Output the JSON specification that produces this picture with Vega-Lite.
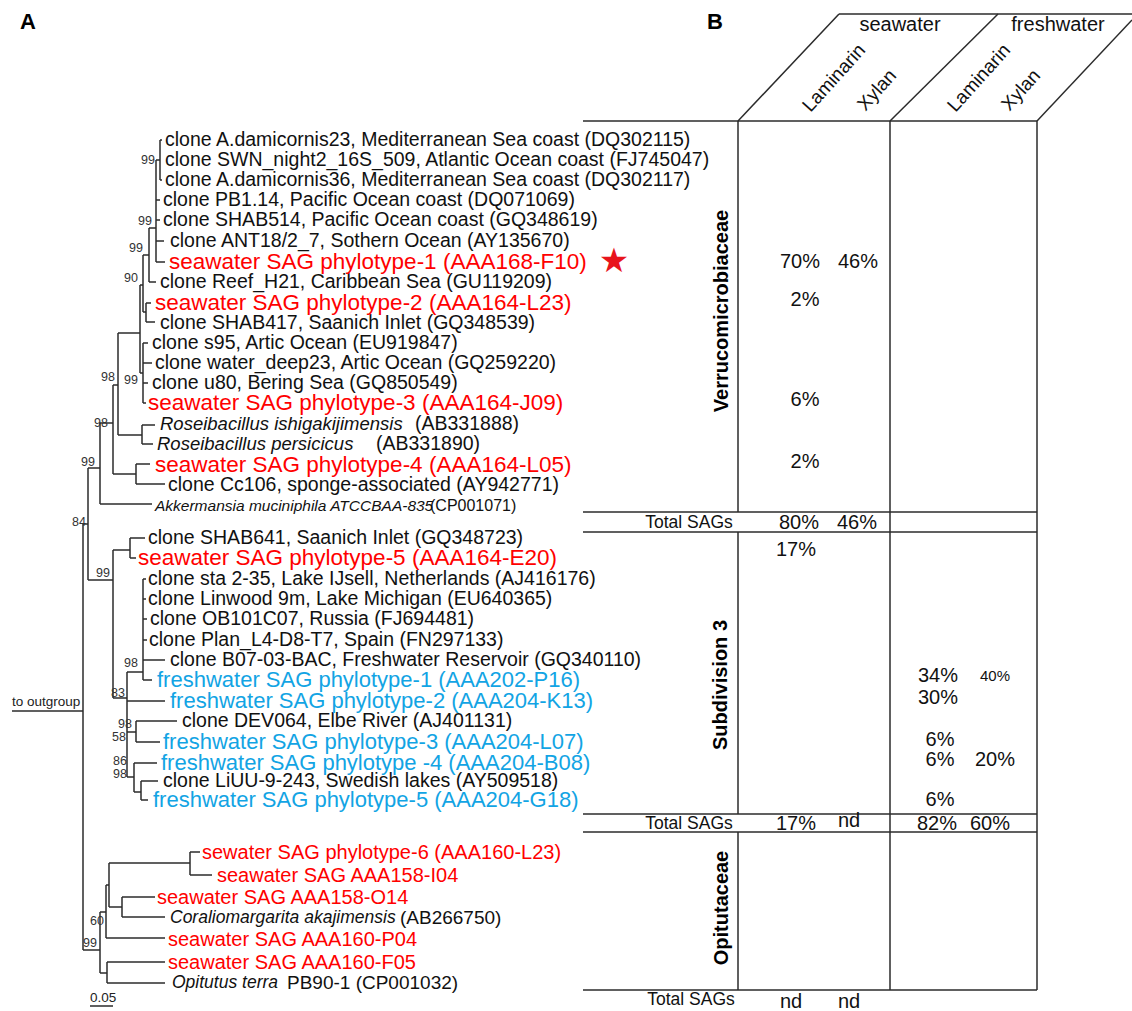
{
  "$schema": "https://vega.github.io/schema/vega-lite/v6.json",
  "width": 1132,
  "height": 1011,
  "autosize": "none",
  "padding": 0,
  "background": "white",
  "config": {"view": {"stroke": null}},
  "data": {"values": [
      {"kind":"seg","x":12,"y":711,"x2":83,"y2":711},
      {"kind":"seg","x":83,"y":524,"x2":83,"y2":950},
      {"kind":"seg","x":83,"y":524,"x2":88,"y2":524},
      {"kind":"seg","x":88,"y":468,"x2":88,"y2":580},
      {"kind":"seg","x":88,"y":468,"x2":100,"y2":468},
      {"kind":"seg","x":100,"y":423,"x2":100,"y2":504},
      {"kind":"seg","x":100,"y":504,"x2":152,"y2":504},
      {"kind":"seg","x":100,"y":423,"x2":113,"y2":423},
      {"kind":"seg","x":113,"y":385,"x2":113,"y2":474},
      {"kind":"seg","x":113,"y":474,"x2":136,"y2":474},
      {"kind":"seg","x":136,"y":464,"x2":136,"y2":484},
      {"kind":"seg","x":136,"y":464,"x2":150,"y2":464},
      {"kind":"seg","x":136,"y":484,"x2":165,"y2":484},
      {"kind":"seg","x":113,"y":385,"x2":118,"y2":385},
      {"kind":"seg","x":118,"y":333,"x2":118,"y2":435},
      {"kind":"seg","x":118,"y":435,"x2":142,"y2":435},
      {"kind":"seg","x":142,"y":425,"x2":142,"y2":444},
      {"kind":"seg","x":142,"y":425,"x2":155,"y2":425},
      {"kind":"seg","x":142,"y":444,"x2":153,"y2":444},
      {"kind":"seg","x":118,"y":333,"x2":140,"y2":333},
      {"kind":"seg","x":140,"y":285,"x2":140,"y2":373},
      {"kind":"seg","x":140,"y":373,"x2":143,"y2":373},
      {"kind":"seg","x":143,"y":343,"x2":143,"y2":403},
      {"kind":"seg","x":143,"y":343,"x2":148,"y2":343},
      {"kind":"seg","x":143,"y":363,"x2":152,"y2":363},
      {"kind":"seg","x":143,"y":383,"x2":148,"y2":383},
      {"kind":"seg","x":143,"y":403,"x2":146,"y2":403},
      {"kind":"seg","x":140,"y":285,"x2":143,"y2":285},
      {"kind":"seg","x":143,"y":255,"x2":143,"y2":312},
      {"kind":"seg","x":143,"y":312,"x2":146,"y2":312},
      {"kind":"seg","x":146,"y":303,"x2":146,"y2":322},
      {"kind":"seg","x":146,"y":303,"x2":151,"y2":303},
      {"kind":"seg","x":146,"y":322,"x2":155,"y2":322},
      {"kind":"seg","x":143,"y":255,"x2":149,"y2":255},
      {"kind":"seg","x":149,"y":228,"x2":149,"y2":282},
      {"kind":"seg","x":149,"y":282,"x2":156,"y2":282},
      {"kind":"seg","x":149,"y":228,"x2":156,"y2":228},
      {"kind":"seg","x":156,"y":160,"x2":156,"y2":262},
      {"kind":"seg","x":156,"y":160,"x2":160,"y2":160},
      {"kind":"seg","x":160,"y":140,"x2":160,"y2":180},
      {"kind":"seg","x":160,"y":140,"x2":162,"y2":140},
      {"kind":"seg","x":160,"y":180,"x2":162,"y2":180},
      {"kind":"seg","x":156,"y":200,"x2":160,"y2":200},
      {"kind":"seg","x":156,"y":220,"x2":160,"y2":220},
      {"kind":"seg","x":156,"y":241,"x2":164,"y2":241},
      {"kind":"seg","x":156,"y":262,"x2":165,"y2":262},
      {"kind":"seg","x":88,"y":580,"x2":113,"y2":580},
      {"kind":"seg","x":113,"y":550,"x2":113,"y2":698},
      {"kind":"seg","x":113,"y":550,"x2":130,"y2":550},
      {"kind":"seg","x":130,"y":538,"x2":130,"y2":558},
      {"kind":"seg","x":130,"y":538,"x2":145,"y2":538},
      {"kind":"seg","x":130,"y":558,"x2":136,"y2":558},
      {"kind":"seg","x":113,"y":698,"x2":127,"y2":698},
      {"kind":"seg","x":127,"y":672,"x2":127,"y2":777},
      {"kind":"seg","x":127,"y":672,"x2":143,"y2":672},
      {"kind":"seg","x":143,"y":579,"x2":143,"y2":680},
      {"kind":"seg","x":143,"y":579,"x2":146,"y2":579},
      {"kind":"seg","x":143,"y":599,"x2":146,"y2":599},
      {"kind":"seg","x":143,"y":619,"x2":147,"y2":619},
      {"kind":"seg","x":143,"y":640,"x2":147,"y2":640},
      {"kind":"seg","x":143,"y":660,"x2":165,"y2":660},
      {"kind":"seg","x":143,"y":680,"x2":152,"y2":680},
      {"kind":"seg","x":127,"y":701,"x2":165,"y2":701},
      {"kind":"seg","x":127,"y":732,"x2":136,"y2":732},
      {"kind":"seg","x":136,"y":721,"x2":136,"y2":742},
      {"kind":"seg","x":136,"y":721,"x2":177,"y2":721},
      {"kind":"seg","x":136,"y":742,"x2":160,"y2":742},
      {"kind":"seg","x":127,"y":777,"x2":134,"y2":777},
      {"kind":"seg","x":134,"y":763,"x2":134,"y2":792},
      {"kind":"seg","x":134,"y":763,"x2":157,"y2":763},
      {"kind":"seg","x":134,"y":792,"x2":141,"y2":792},
      {"kind":"seg","x":141,"y":781,"x2":141,"y2":800},
      {"kind":"seg","x":141,"y":781,"x2":158,"y2":781},
      {"kind":"seg","x":141,"y":800,"x2":148,"y2":800},
      {"kind":"seg","x":83,"y":950,"x2":100,"y2":950},
      {"kind":"seg","x":100,"y":912,"x2":100,"y2":973},
      {"kind":"seg","x":100,"y":912,"x2":106,"y2":912},
      {"kind":"seg","x":106,"y":885,"x2":106,"y2":938},
      {"kind":"seg","x":106,"y":938,"x2":165,"y2":938},
      {"kind":"seg","x":106,"y":885,"x2":109,"y2":885},
      {"kind":"seg","x":109,"y":863,"x2":109,"y2":907},
      {"kind":"seg","x":109,"y":863,"x2":190,"y2":863},
      {"kind":"seg","x":190,"y":852,"x2":190,"y2":875},
      {"kind":"seg","x":190,"y":852,"x2":200,"y2":852},
      {"kind":"seg","x":190,"y":875,"x2":212,"y2":875},
      {"kind":"seg","x":109,"y":907,"x2":122,"y2":907},
      {"kind":"seg","x":122,"y":897,"x2":122,"y2":917},
      {"kind":"seg","x":122,"y":897,"x2":155,"y2":897},
      {"kind":"seg","x":122,"y":917,"x2":165,"y2":917},
      {"kind":"seg","x":100,"y":973,"x2":107,"y2":973},
      {"kind":"seg","x":107,"y":962,"x2":107,"y2":983},
      {"kind":"seg","x":107,"y":962,"x2":165,"y2":962},
      {"kind":"seg","x":107,"y":983,"x2":165,"y2":983},
      {"kind":"seg","x":90,"y":1006,"x2":113,"y2":1006},
      {"kind":"seg","x":839,"y":14,"x2":1132,"y2":14},
      {"kind":"seg","x":738,"y":121,"x2":839,"y2":14},
      {"kind":"seg","x":890,"y":121,"x2":998,"y2":14},
      {"kind":"seg","x":1037,"y":121,"x2":1132,"y2":20},
      {"kind":"seg","x":583,"y":121,"x2":1037,"y2":121},
      {"kind":"seg","x":738,"y":121,"x2":738,"y2":512},
      {"kind":"seg","x":738,"y":532,"x2":738,"y2":814},
      {"kind":"seg","x":738,"y":832,"x2":738,"y2":990},
      {"kind":"seg","x":890,"y":121,"x2":890,"y2":990},
      {"kind":"seg","x":1037,"y":121,"x2":1037,"y2":990},
      {"kind":"seg","x":583,"y":512,"x2":1037,"y2":512},
      {"kind":"seg","x":583,"y":532,"x2":1037,"y2":532},
      {"kind":"seg","x":583,"y":814,"x2":1037,"y2":814},
      {"kind":"seg","x":583,"y":832,"x2":1037,"y2":832},
      {"kind":"seg","x":583,"y":990,"x2":1037,"y2":990},
      {"kind":"star","x":614,"y":262,"text":"★"},
      {"kind":"clone","x":165,"y":140,"text":"clone A.damicornis23, Mediterranean Sea coast (DQ302115)"},
      {"kind":"clone","x":165,"y":160,"text":"clone SWN_night2_16S_509, Atlantic Ocean coast (FJ745047)"},
      {"kind":"clone","x":165,"y":180,"text":"clone A.damicornis36, Mediterranean Sea coast (DQ302117)"},
      {"kind":"clone","x":163,"y":200,"text":"clone PB1.14, Pacific Ocean coast (DQ071069)"},
      {"kind":"clone","x":163,"y":220,"text":"clone SHAB514, Pacific Ocean coast (GQ348619)"},
      {"kind":"clone","x":170,"y":241,"text":"clone ANT18/2_7, Sothern Ocean (AY135670)"},
      {"kind":"clone","x":160,"y":282,"text":"clone Reef_H21, Caribbean Sea (GU119209)"},
      {"kind":"clone","x":160,"y":323,"text":"clone SHAB417, Saanich Inlet (GQ348539)"},
      {"kind":"clone","x":152,"y":343,"text":"clone s95, Artic Ocean (EU919847)"},
      {"kind":"clone","x":155,"y":363,"text":"clone water_deep23, Artic Ocean (GQ259220)"},
      {"kind":"clone","x":152,"y":383,"text":"clone u80, Bering Sea (GQ850549)"},
      {"kind":"clone","x":168,"y":485,"text":"clone Cc106, sponge-associated (AY942771)"},
      {"kind":"clone","x":148,"y":538,"text":"clone SHAB641, Saanich Inlet (GQ348723)"},
      {"kind":"clone","x":148,"y":579,"text":"clone sta 2-35, Lake IJsell, Netherlands (AJ416176)"},
      {"kind":"clone","x":148,"y":599,"text":"clone Linwood 9m, Lake Michigan (EU640365)"},
      {"kind":"clone","x":150,"y":619,"text":"clone OB101C07, Russia (FJ694481)"},
      {"kind":"clone","x":149,"y":640,"text":"clone Plan_L4-D8-T7, Spain (FN297133)"},
      {"kind":"clone","x":170,"y":660,"text":"clone B07-03-BAC, Freshwater Reservoir (GQ340110)"},
      {"kind":"clone","x":182,"y":721,"text":"clone DEV064, Elbe River (AJ401131)"},
      {"kind":"clone","x":163,"y":781,"text":"clone LiUU-9-243, Swedish lakes (AY509518)"},
      {"kind":"seawater","x":169,"y":262,"text":"seawater SAG phylotype-1 (AAA168-F10)"},
      {"kind":"seawater","x":155,"y":303,"text":"seawater SAG phylotype-2 (AAA164-L23)"},
      {"kind":"seawater","x":148,"y":403,"text":"seawater SAG phylotype-3 (AAA164-J09)"},
      {"kind":"seawater","x":155,"y":465,"text":"seawater SAG phylotype-4 (AAA164-L05)"},
      {"kind":"seawater","x":138,"y":558,"text":"seawater SAG phylotype-5 (AAA164-E20)"},
      {"kind":"seawater2","x":202,"y":853,"text":"sewater SAG phylotype-6 (AAA160-L23)"},
      {"kind":"seawater2","x":217,"y":876,"text":"seawater SAG AAA158-I04"},
      {"kind":"seawater2","x":157,"y":898,"text":"seawater SAG AAA158-O14"},
      {"kind":"seawater2","x":168,"y":940,"text":"seawater SAG AAA160-P04"},
      {"kind":"seawater2","x":168,"y":963,"text":"seawater SAG AAA160-F05"},
      {"kind":"freshwater","x":157,"y":680,"text":"freshwater SAG phylotype-1 (AAA202-P16)"},
      {"kind":"freshwater","x":170,"y":701,"text":"freshwater SAG phylotype-2 (AAA204-K13)"},
      {"kind":"freshwater","x":163,"y":742,"text":"freshwater SAG phylotype-3 (AAA204-L07)"},
      {"kind":"freshwater","x":161,"y":763,"text":"freshwater SAG phylotype -4 (AAA204-B08)"},
      {"kind":"freshwater","x":153,"y":800,"text":"freshwater SAG phylotype-5 (AAA204-G18)"},
      {"kind":"species","x":160,"y":424,"text":"Roseibacillus ishigakijimensis"},
      {"kind":"accession","x":415,"y":424,"text":"(AB331888)"},
      {"kind":"species","x":157,"y":444,"text":"Roseibacillus persicicus"},
      {"kind":"accession","x":376,"y":444,"text":"(AB331890)"},
      {"kind":"species_s","x":155,"y":506,"text":"Akkermansia muciniphila ATCCBAA-835"},
      {"kind":"accession_s","x":430,"y":506,"text":"(CP001071)"},
      {"kind":"species2","x":170,"y":918,"text":"Coraliomargarita akajimensis"},
      {"kind":"accession2","x":400,"y":918,"text":"(AB266750)"},
      {"kind":"species2","x":172,"y":983,"text":"Opitutus terra"},
      {"kind":"accession2","x":287,"y":983,"text":"PB90-1 (CP001032)"},
      {"kind":"bootstrap","x":155,"y":160,"text":"99"},
      {"kind":"bootstrap","x":152,"y":221,"text":"99"},
      {"kind":"bootstrap","x":143,"y":248,"text":"99"},
      {"kind":"bootstrap","x":138,"y":278,"text":"90"},
      {"kind":"bootstrap","x":138,"y":380,"text":"99"},
      {"kind":"bootstrap","x":115,"y":377,"text":"98"},
      {"kind":"bootstrap","x":108,"y":423,"text":"98"},
      {"kind":"bootstrap","x":95,"y":462,"text":"99"},
      {"kind":"bootstrap","x":86,"y":522,"text":"84"},
      {"kind":"bootstrap","x":110,"y":573,"text":"99"},
      {"kind":"bootstrap","x":138,"y":663,"text":"98"},
      {"kind":"bootstrap","x":125,"y":693,"text":"83"},
      {"kind":"bootstrap","x":132,"y":724,"text":"98"},
      {"kind":"bootstrap","x":126,"y":737,"text":"58"},
      {"kind":"bootstrap","x":127,"y":761,"text":"86"},
      {"kind":"bootstrap","x":127,"y":774,"text":"98"},
      {"kind":"bootstrap","x":104,"y":921,"text":"60"},
      {"kind":"bootstrap","x":97,"y":943,"text":"99"},
      {"kind":"note","x":12,"y":702,"text":"to outgroup"},
      {"kind":"note","x":90,"y":998,"text":"0.05"},
      {"kind":"panel","x":28,"y":22,"text":"A"},
      {"kind":"panel","x":715,"y":22,"text":"B"},
      {"kind":"header","x":900,"y":25,"text":"seawater"},
      {"kind":"header","x":1058,"y":25,"text":"freshwater"},
      {"kind":"substrate","x":834,"y":78,"text":"Laminarin"},
      {"kind":"substrate","x":877,"y":90,"text":"Xylan"},
      {"kind":"substrate","x":979,"y":78,"text":"Laminarin"},
      {"kind":"substrate","x":1021,"y":90,"text":"Xylan"},
      {"kind":"group","x":722,"y":311,"text":"Verrucomicrobiaceae"},
      {"kind":"group","x":721,"y":685,"text":"Subdivision 3"},
      {"kind":"group","x":722,"y":908,"text":"Opitutaceae"},
      {"kind":"total","x":689,"y":523,"text":"Total SAGs"},
      {"kind":"total","x":689,"y":824,"text":"Total SAGs"},
      {"kind":"total","x":691,"y":1000,"text":"Total SAGs"},
      {"kind":"percent","x":800,"y":262,"text":"70%"},
      {"kind":"percent","x":858,"y":262,"text":"46%"},
      {"kind":"percent","x":805,"y":300,"text":"2%"},
      {"kind":"percent","x":805,"y":400,"text":"6%"},
      {"kind":"percent","x":805,"y":462,"text":"2%"},
      {"kind":"percent","x":799,"y":523,"text":"80%"},
      {"kind":"percent","x":857,"y":523,"text":"46%"},
      {"kind":"percent","x":796,"y":550,"text":"17%"},
      {"kind":"percent","x":938,"y":676,"text":"34%"},
      {"kind":"smallpercent","x":995,"y":676,"text":"40%"},
      {"kind":"percent","x":938,"y":698,"text":"30%"},
      {"kind":"percent","x":940,"y":740,"text":"6%"},
      {"kind":"percent","x":940,"y":760,"text":"6%"},
      {"kind":"percent","x":995,"y":760,"text":"20%"},
      {"kind":"percent","x":940,"y":800,"text":"6%"},
      {"kind":"percent","x":796,"y":824,"text":"17%"},
      {"kind":"percent","x":849,"y":821,"text":"nd"},
      {"kind":"percent","x":937,"y":824,"text":"82%"},
      {"kind":"percent","x":990,"y":824,"text":"60%"},
      {"kind":"percent","x":791,"y":1002,"text":"nd"},
      {"kind":"percent","x":849,"y":1002,"text":"nd"}
  ]},
  "encoding": {
    "x": {"field": "x", "type": "quantitative", "scale": {"domain": [0, 1132], "nice": false, "zero": false}, "axis": null},
    "y": {"field": "y", "type": "quantitative", "scale": {"domain": [0, 1011], "nice": false, "zero": false, "reverse": true}, "axis": null}
  },
  "layer": [
    {
      "transform": [{"filter": "datum.kind === 'seg'"}],
      "mark": {"type": "rule", "color": "#2b2b2b", "strokeWidth": 1.5},
      "encoding": {"x2": {"field": "x2"}, "y2": {"field": "y2"}}
    },
    {
      "transform": [{"filter": "datum.kind === 'star'"}],
      "mark": {"type": "text", "font": "DejaVu Sans", "align": "center", "baseline": "middle", "fontSize": 34, "color": "#e8141c"},
      "encoding": {"text": {"field": "text", "type": "nominal"}}
    },
    {
      "transform": [{"filter": "datum.kind === 'clone' || datum.kind === 'accession'"}],
      "mark": {"type": "text", "font": "Liberation Sans", "align": "left", "baseline": "middle", "fontSize": 19.5, "color": "#111111"},
      "encoding": {"text": {"field": "text", "type": "nominal"}}
    },
    {
      "transform": [{"filter": "datum.kind === 'species'"}],
      "mark": {"type": "text", "font": "Liberation Sans", "align": "left", "baseline": "middle", "fontSize": 18.5, "fontStyle": "italic", "color": "#111111"},
      "encoding": {"text": {"field": "text", "type": "nominal"}}
    },
    {
      "transform": [{"filter": "datum.kind === 'species_s'"}],
      "mark": {"type": "text", "font": "Liberation Sans", "align": "left", "baseline": "middle", "fontSize": 15.5, "fontStyle": "italic", "color": "#111111"},
      "encoding": {"text": {"field": "text", "type": "nominal"}}
    },
    {
      "transform": [{"filter": "datum.kind === 'accession_s'"}],
      "mark": {"type": "text", "font": "Liberation Sans", "align": "left", "baseline": "middle", "fontSize": 16, "color": "#111111"},
      "encoding": {"text": {"field": "text", "type": "nominal"}}
    },
    {
      "transform": [{"filter": "datum.kind === 'species2'"}],
      "mark": {"type": "text", "font": "Liberation Sans", "align": "left", "baseline": "middle", "fontSize": 17.5, "fontStyle": "italic", "color": "#111111"},
      "encoding": {"text": {"field": "text", "type": "nominal"}}
    },
    {
      "transform": [{"filter": "datum.kind === 'accession2'"}],
      "mark": {"type": "text", "font": "Liberation Sans", "align": "left", "baseline": "middle", "fontSize": 19, "color": "#111111"},
      "encoding": {"text": {"field": "text", "type": "nominal"}}
    },
    {
      "transform": [{"filter": "datum.kind === 'seawater'"}],
      "mark": {"type": "text", "font": "Liberation Sans", "align": "left", "baseline": "middle", "fontSize": 22.5, "color": "#ff0000"},
      "encoding": {"text": {"field": "text", "type": "nominal"}}
    },
    {
      "transform": [{"filter": "datum.kind === 'seawater2'"}],
      "mark": {"type": "text", "font": "Liberation Sans", "align": "left", "baseline": "middle", "fontSize": 20, "color": "#ff0000"},
      "encoding": {"text": {"field": "text", "type": "nominal"}}
    },
    {
      "transform": [{"filter": "datum.kind === 'freshwater'"}],
      "mark": {"type": "text", "font": "Liberation Sans", "align": "left", "baseline": "middle", "fontSize": 22, "color": "#12a4e4"},
      "encoding": {"text": {"field": "text", "type": "nominal"}}
    },
    {
      "transform": [{"filter": "datum.kind === 'bootstrap'"}],
      "mark": {"type": "text", "font": "Liberation Sans", "align": "right", "baseline": "middle", "fontSize": 12.5, "color": "#333333"},
      "encoding": {"text": {"field": "text", "type": "nominal"}}
    },
    {
      "transform": [{"filter": "datum.kind === 'note'"}],
      "mark": {"type": "text", "font": "Liberation Sans", "align": "left", "baseline": "middle", "fontSize": 13.5, "color": "#222222"},
      "encoding": {"text": {"field": "text", "type": "nominal"}}
    },
    {
      "transform": [{"filter": "datum.kind === 'panel'"}],
      "mark": {"type": "text", "font": "Liberation Sans", "align": "center", "baseline": "middle", "fontSize": 22, "fontWeight": "bold", "color": "#000000"},
      "encoding": {"text": {"field": "text", "type": "nominal"}}
    },
    {
      "transform": [{"filter": "datum.kind === 'header'"}],
      "mark": {"type": "text", "font": "Liberation Sans", "align": "center", "baseline": "middle", "fontSize": 20, "color": "#111111"},
      "encoding": {"text": {"field": "text", "type": "nominal"}}
    },
    {
      "transform": [{"filter": "datum.kind === 'substrate'"}],
      "mark": {"type": "text", "font": "Liberation Sans", "align": "center", "baseline": "middle", "fontSize": 19, "angle": 312, "color": "#111111"},
      "encoding": {"text": {"field": "text", "type": "nominal"}}
    },
    {
      "transform": [{"filter": "datum.kind === 'group'"}],
      "mark": {"type": "text", "font": "Liberation Sans", "align": "center", "baseline": "middle", "fontSize": 20, "fontWeight": "bold", "angle": 270, "color": "#000000"},
      "encoding": {"text": {"field": "text", "type": "nominal"}}
    },
    {
      "transform": [{"filter": "datum.kind === 'total'"}],
      "mark": {"type": "text", "font": "Liberation Sans", "align": "center", "baseline": "middle", "fontSize": 17.5, "color": "#111111"},
      "encoding": {"text": {"field": "text", "type": "nominal"}}
    },
    {
      "transform": [{"filter": "datum.kind === 'percent'"}],
      "mark": {"type": "text", "font": "Liberation Sans", "align": "center", "baseline": "middle", "fontSize": 20, "color": "#111111"},
      "encoding": {"text": {"field": "text", "type": "nominal"}}
    },
    {
      "transform": [{"filter": "datum.kind === 'smallpercent'"}],
      "mark": {"type": "text", "font": "Liberation Sans", "align": "center", "baseline": "middle", "fontSize": 15, "color": "#111111"},
      "encoding": {"text": {"field": "text", "type": "nominal"}}
    }
  ]
}
